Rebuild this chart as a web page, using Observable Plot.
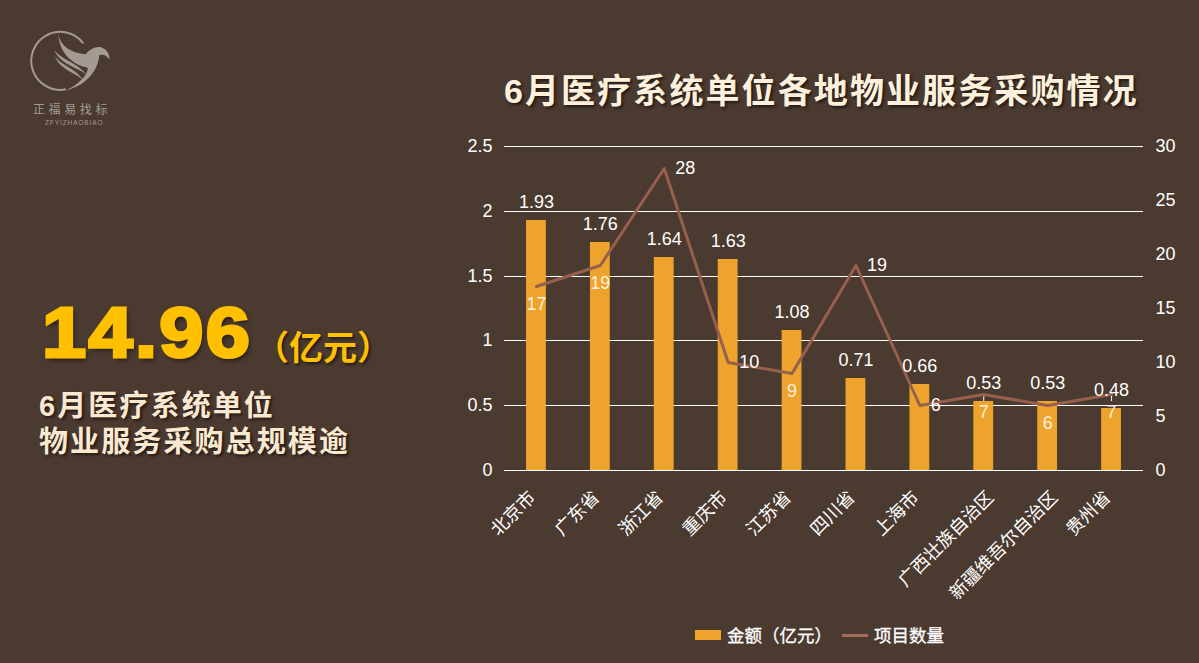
<!DOCTYPE html>
<html lang="zh">
<head>
<meta charset="utf-8">
<script src="https://cdn.jsdelivr.net/npm/d3@7"></script>
<script src="https://cdn.jsdelivr.net/npm/@observablehq/plot@0.6"></script>
<style>
html,body{margin:0;padding:0;width:1199px;height:663px;overflow:hidden;background:#4b3a30;}
body{position:relative;font-family:"Liberation Sans","Noto Sans CJK SC",sans-serif;}
#chart{position:absolute;left:0;top:0;}
.abs{position:absolute;white-space:nowrap;}
#title{left:504px;top:71px;font-size:34px;line-height:40px;font-weight:700;letter-spacing:2.1px;color:#fdf0dc;text-shadow:2px 2px 3px rgba(0,0,0,.55);}
#big{left:42px;top:288px;font-size:70px;line-height:90px;font-weight:700;color:#ffc000;letter-spacing:2px;-webkit-text-stroke:3px #ffc000;text-shadow:2px 3px 4px rgba(0,0,0,.55);transform:scaleX(1.135);transform-origin:left center;}
#unit{left:255px;top:326px;font-size:34px;line-height:44px;font-weight:700;color:#ffc000;text-shadow:2px 2px 3px rgba(0,0,0,.5);}
#sub{left:39px;top:388px;font-size:29px;line-height:36px;font-weight:700;letter-spacing:2.1px;color:#fbe8d0;text-shadow:2px 2px 3px rgba(0,0,0,.55);}
#legend{left:695px;top:625px;height:22px;font-size:17.5px;line-height:22px;color:#fff;-webkit-text-stroke:.3px #fff;}
#legend span{position:absolute;top:0;}
#sw1{left:0;top:5px!important;width:26px;height:10px;background:#eda32c;}
#sw2{left:147px;top:9px!important;width:26px;height:2.5px;background:#a06e5a;}
#l1{left:32px;}#l2{left:179px;}
#logo{left:20px;top:25px;}
.lt1{left:33px;top:103px;font-size:12px;line-height:14px;letter-spacing:3.6px;color:#a39a93;}
.lt2{left:45px;top:119px;font-size:6.5px;line-height:8px;letter-spacing:.9px;color:#a39a93;}
</style>
</head>
<body>
<div id="chart"></div>
<svg id="logo" class="abs" width="100" height="105" viewBox="0 0 300 315" fill="#a39a93">
<path d="M190 55 A87 87 0 1 0 138 193" fill="none" stroke="#a39a93" stroke-width="6"/>
<path d="M115 28C120 60 150 85 198 88C205 75 222 65 240 66C258 70 270 85 268 104C260 90 250 87 238 90C235 130 205 180 138 196C175 178 205 150 203 128C165 122 118 90 115 28Z"/>
<path d="M103 75C125 105 175 115 200 150C170 125 120 118 103 75Z"/>
<path d="M105 95C125 122 165 128 190 165C165 142 122 135 105 95Z"/>
</svg>
<div class="abs lt1">正福易找标</div>
<div class="abs lt2">ZFYIZHAOBIAO</div>
<div id="title" class="abs">6月医疗系统单位各地物业服务采购情况</div>
<div id="big" class="abs">14.96</div>
<div id="unit" class="abs">（亿元）</div>
<div id="sub" class="abs">6月医疗系统单位<br>物业服务采购总规模逾</div>
<div id="legend" class="abs"><span id="sw1"></span><span id="l1">金额（亿元）</span><span id="sw2"></span><span id="l2">项目数量</span></div>
<script>
const regions = ["北京市","广东省","浙江省","重庆市","江苏省","四川省","上海市","广西壮族自治区","新疆维吾尔自治区","贵州省"];
const amounts = [1.93,1.76,1.64,1.63,1.08,0.71,0.66,0.53,0.53,0.48];
const projects = [17,19,28,10,9,19,6,7,6,7];
const countSide = ["below","below","right","right","below","right","near","below","below","below"];
const yTicks = [0,0.5,1,1.5,2,2.5];
const countTicks = [0,5,10,15,20,25,30];
const longRegions = ["广西壮族自治区","新疆维吾尔自治区"];
const leaderRegions = ["广西壮族自治区","贵州省"];
const leaderCounts = [7,7];
const leaderEnds = [0.53,0.53];
const ratio = 30/2.5;   // right axis (count) over left axis (amount)

const rows = regions.map((r,i)=>({region:r,amount:amounts[i],count:projects[i],side:countSide[i]}));
const leaders = leaderRegions.map((r,i)=>({region:r,from:leaderCounts[i]/ratio,to:leaderEnds[i]}));
const font = '"Liberation Sans","Noto Sans CJK SC",sans-serif';
const lbl = {fontSize:18,fill:"#fff",fontFamily:font};
const axisXStyle = {anchor:"bottom",tickSize:0,tickPadding:24,tickRotate:-45,label:null,fontSize:18,fill:"#fff"};

const plot = Plot.plot({
  width:1199,height:663,
  marginLeft:504,marginRight:56,marginTop:146,marginBottom:193,
  style:{background:"transparent",color:"#fff",fontFamily:font,fontSize:"18px"},
  x:{domain:regions,paddingInner:0.69,paddingOuter:0.345,round:false,label:null},
  y:{domain:[0,2.5],round:true,label:null},
  marks:[
    Plot.ruleY(yTicks,{stroke:"#fff",strokeWidth:1,strokeOpacity:1}),
    Plot.barY(rows,{x:"region",y:"amount",fill:"#eda32c"}),
    Plot.ruleX(leaders,{x:"region",y1:"from",y2:"to",stroke:"#fff",strokeWidth:1}),
    Plot.line(rows,{x:"region",y:d=>d.count/ratio,stroke:"#96604d",strokeWidth:3,curve:"linear"}),
    Plot.text(rows,{x:"region",y:"amount",text:d=>d.amount.toFixed(2),dy:-18,...lbl}),
    Plot.text(rows.filter(d=>d.side==="below"),{x:"region",y:d=>d.count/ratio,text:"count",dy:18,...lbl,fill:"#fdf0dc"}),
    Plot.text(rows.filter(d=>d.side==="right"),{x:"region",y:d=>d.count/ratio,text:"count",dx:21,...lbl}),
    Plot.text(rows.filter(d=>d.side==="near"),{x:"region",y:d=>d.count/ratio,text:"count",dx:16,...lbl}),
    Plot.axisY({ticks:yTicks,anchor:"left",tickSize:0,tickPadding:12,label:null,tickFormat:d=>String(d),fontSize:18,fill:"#fff"}),
    Plot.axisY(countTicks.map(d=>d/ratio),{anchor:"right",tickSize:0,tickPadding:12,label:null,tickFormat:d=>String(Math.round(d*ratio)),fontSize:18,fill:"#fff"}),
    Plot.axisX(regions.filter(r=>!longRegions.includes(r)),{...axisXStyle,dx:-4}),
    Plot.axisX(longRegions,{...axisXStyle,dx:7})
  ]
});
document.getElementById("chart").appendChild(plot);
</script>
</body>
</html>
